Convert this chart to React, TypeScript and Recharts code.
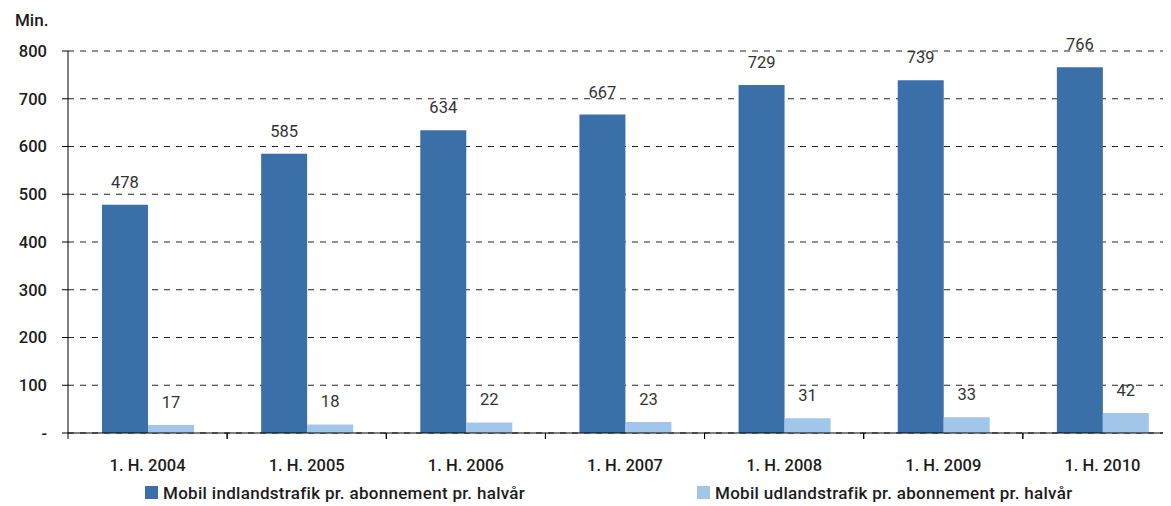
import React from "react";
import { BarChart, Bar, XAxis, YAxis, CartesianGrid, LabelList, Legend } from "recharts";

const categories = ["1. H. 2004", "1. H. 2005", "1. H. 2006", "1. H. 2007", "1. H. 2008", "1. H. 2009", "1. H. 2010"];
const indland = [478, 585, 634, 667, 729, 739, 766];
const udland = [17, 18, 22, 23, 31, 33, 42];
const yTicks = [0, 100, 200, 300, 400, 500, 600, 700, 800];
const seriesNames = ["Mobil indlandstrafik pr. abonnement pr. halvår", "Mobil udlandstrafik pr. abonnement pr. halvår"];
const colors = ["#3B6FA8", "#A2C6E9"];

const data = categories.map((c, i) => ({ name: c, indland: indland[i], udland: udland[i] }));

const FONT = "Roboto, 'DejaVu Sans', sans-serif";
const TEXT = "#1c1c1c";

const XTick = (props: any) => {
  const { x, y, payload, width, visibleTicksCount } = props;
  const half = payload && payload.offset ? payload.offset : width / visibleTicksCount / 2;
  return (
    <g>
      <line x1={x - half} x2={x - half} y1={y} y2={y + 6} stroke="#000" strokeWidth={1} />
      <line x1={x + half} x2={x + half} y1={y} y2={y + 6} stroke="#000" strokeWidth={1} />
      <text x={x} y={y + 38} textAnchor="middle" fontSize={16.5} fontWeight={500} fontFamily={FONT} fill={TEXT}>
        {payload.value}
      </text>
    </g>
  );
};

const renderLegend = () => (
  <div style={{ display: "flex", alignItems: "center", height: 27, paddingLeft: 137, fontFamily: FONT, fontSize: 17, fontWeight: 500, letterSpacing: "0.3px", color: TEXT }}>
    {seriesNames.map((n, i) => (
      <div key={n} style={{ display: "flex", alignItems: "center", width: i === 0 ? 552 : "auto" }}>
        <span style={{ display: "inline-block", width: 13, height: 13, background: colors[i], marginRight: 5 }} />
        <span>{n}</span>
      </div>
    ))}
  </div>
);

export default function App() {
  return (
    <div style={{ position: "relative", width: 1163, height: 498, overflow: "hidden" }}>
      <div style={{ position: "absolute", left: 7, top: 4, fontFamily: FONT, fontSize: 17, fontWeight: 500, color: TEXT, lineHeight: "17px" }}>Min.</div>
      <BarChart width={1180} height={498} data={data} margin={{ top: 43, right: 6, left: 0, bottom: 0 }} barGap={0} barSize={46}>
        <CartesianGrid horizontal vertical={false} stroke="#222" strokeDasharray="6 6" />
        <XAxis
          dataKey="name"
          height={46}
          tickLine={false}
          tickSize={0}
          tickMargin={0}
          axisLine={{ stroke: "#000" }}
          tick={<XTick />}
          interval={0}
        />
        <YAxis
          width={60}
          domain={[0, 800]}
          ticks={yTicks}
          tickSize={6}
          tickMargin={15}
          axisLine={{ stroke: "#000" }}
          tickLine={{ stroke: "#000" }}
          tick={{ fontSize: 16.5, fontWeight: 500, fontFamily: FONT, fill: TEXT }}
          tickFormatter={(v: number) => (v === 0 ? "-" : String(v))}
        />
        <Legend verticalAlign="bottom" content={renderLegend} />
        <Bar dataKey="indland" name={seriesNames[0]} fill={colors[0]} isAnimationActive={false}>
          <LabelList dataKey="indland" position="top" offset={17} fontSize={16.5} fontWeight={400} fontFamily={FONT} fill="#333" />
        </Bar>
        <Bar dataKey="udland" name={seriesNames[1]} fill={colors[1]} isAnimationActive={false}>
          <LabelList dataKey="udland" position="top" offset={17} fontSize={16.5} fontWeight={400} fontFamily={FONT} fill="#333" />
        </Bar>
      </BarChart>
    </div>
  );
}
